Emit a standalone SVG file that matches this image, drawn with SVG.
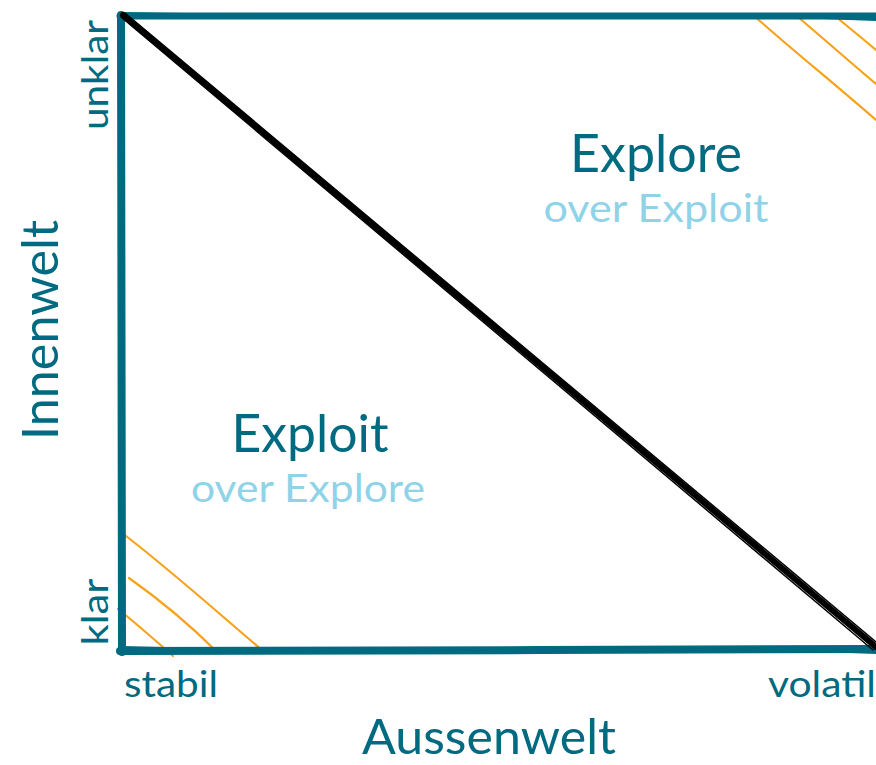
<svg xmlns="http://www.w3.org/2000/svg" width="876" height="765" viewBox="0 0 876 765">
<style>
.fr{fill:none;stroke:#006a80;stroke-linecap:round;stroke-linejoin:round}
.dg{fill:none;stroke:#000;stroke-linecap:round}
.ha{fill:none;stroke:#f7a21b;stroke-width:2.2;stroke-linecap:round}
.t{font-family:Lato,"Open Sans",sans-serif;fill:#006a80}
.s{font-family:Lato,"Open Sans",sans-serif;fill:#8fd3e8}
</style>
<rect width="876" height="765" fill="#fff"/>
<g id="hatch">
<path class="ha" d="M752,14 C790,48 830,80 876,120"/>
<path class="ha" d="M798,17 C825,40 850,62 876,84"/>
<path class="ha" d="M834,15 C848,27 862,38 876,50"/>
<path class="ha" d="M126,536 C170,570 215,610 263,651"/>
<path class="ha" d="M129,578 C160,600 190,625 216,651"/>
<path class="ha" d="M118,609 C138,625 155,640 173,656"/>
</g>
<g id="frame">
<path class="fr" stroke-width="8" d="M121,15 C123,200 120,420 122,652"/>
<path class="fr" stroke-width="2" d="M119,18 C121,220 125,430 120,650"/>
<path class="fr" stroke-width="2" d="M124,14 C122,230 118,450 123,652"/>
<path class="fr" stroke-width="7" d="M120,16 C350,14 600,18 876,16"/>
<path class="fr" stroke-width="2" d="M122,13 C400,19 650,11 876,20"/>
<path class="fr" stroke-width="8" d="M120,651 C380,648 620,652 876,649"/>
<path class="fr" stroke-width="2" d="M122,647 C400,655 650,644 876,653"/>
</g>
<g id="connectors">
<path class="dg" stroke-width="6" d="M123,15 L876,647"/>
<path class="dg" stroke-width="1.5" d="M121,17 C350,210 600,420 873,650"/>
<path class="dg" stroke-width="1.5" d="M125,13 C380,225 620,430 876,642"/>
</g>
<g id="explore">
<text class="t" x="656" y="172" font-size="52" text-anchor="middle" textLength="172" lengthAdjust="spacingAndGlyphs">Explore</text>
<text class="s" x="656" y="222" font-size="39" text-anchor="middle" textLength="225" lengthAdjust="spacingAndGlyphs">over Exploit</text>
</g>
<g id="exploit">
<text class="t" x="310" y="452" font-size="52" text-anchor="middle" textLength="157" lengthAdjust="spacingAndGlyphs">Exploit</text>
<text class="s" x="308" y="502" font-size="39" text-anchor="middle" textLength="234" lengthAdjust="spacingAndGlyphs">over Explore</text>
</g>
<g id="axes">
<text class="t" font-size="50" text-anchor="middle" transform="translate(58,330) rotate(-90)" textLength="220" lengthAdjust="spacingAndGlyphs">Innenwelt</text>
<text class="t" font-size="37" text-anchor="middle" transform="translate(108,75) rotate(-90)" textLength="110" lengthAdjust="spacingAndGlyphs">unklar</text>
<text class="t" font-size="37" text-anchor="middle" transform="translate(108,612) rotate(-90)" textLength="67" lengthAdjust="spacingAndGlyphs">klar</text>
<text class="t" x="124" y="697" font-size="37" textLength="94" lengthAdjust="spacingAndGlyphs">stabil</text>
<text class="t" x="876" y="697" font-size="37" text-anchor="end" textLength="108" lengthAdjust="spacingAndGlyphs">volatil</text>
<text class="t" x="489" y="754" font-size="48" text-anchor="middle" textLength="254" lengthAdjust="spacingAndGlyphs">Aussenwelt</text>
</g>
</svg>
